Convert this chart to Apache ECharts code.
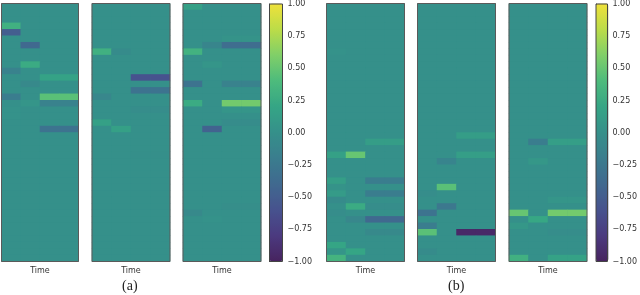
<!DOCTYPE html>
<html><head><meta charset="utf-8">
<style>html,body{margin:0;padding:0;background:#fff}#c{width:640px;height:295px}</style>
<script src="https://cdn.jsdelivr.net/npm/echarts@6/dist/echarts.min.js"></script>
</head><body><div id="c"></div>
<script>
const timeSteps = ['t1','t2','t3','t4'];
const rowCount = 40;
const colorTicks = [-1,-0.75,-0.5,-0.25,0,0.25,0.5,0.75,1];
// each entry: [first time index, last time index, row, value]; other cells are 0
const panelA1 = [[0,0,3,.3],[0,0,4,-.5],[0,0,10,-.15],[0,0,14,-.2],[0,0,16,.02],[0,0,17,.02],
  [1,1,6,-.4],[1,1,9,.25],[1,1,12,-.07],[1,1,15,.05],
  [2,3,11,.17],[2,3,14,.45],[2,3,15,-.15],[2,3,19,-.3]];
const panelA2 = [[0,0,7,.3],[0,0,14,-.1],[0,0,18,.15],[1,1,7,-.05],[1,1,19,.15],
  [2,3,11,-.6],[2,3,13,-.3],[2,3,16,-.03],[2,3,23,-.01]];
const panelA3 = [[0,0,0,.15],[0,0,7,.32],[0,0,12,-.3],[0,0,15,.25],[0,0,32,-.07],
  [1,1,6,-.12],[1,1,9,.05],[1,1,19,-.45],[1,1,33,.02],
  [2,3,5,.03],[2,3,6,-.35],[2,3,12,-.15],[2,3,15,.55],[2,3,16,.05],[2,3,18,-.04],[2,3,31,-.02]];
const panelB1 = [[0,0,7,.02],[0,0,23,.15],[0,0,27,.13],[0,0,28,.03],[0,0,29,.1],[0,0,30,-.05],[0,0,32,-.03],[0,0,37,.2],[0,0,38,.05],[0,0,39,.33],
  [1,1,23,.5],[1,1,31,.25],[1,1,33,-.1],[1,1,38,.2],
  [2,3,21,.12],[2,3,27,-.2],[2,3,29,-.2],[2,3,31,-.03],[2,3,33,-.4],[2,3,35,-.07]];
const panelB2 = [[0,0,29,-.03],[0,0,32,-.3],[0,0,34,-.2],[0,0,35,.45],[0,0,38,-.05],
  [1,1,24,-.13],[1,1,28,.45],[1,1,31,-.25],
  [2,3,20,.12],[2,3,23,.13],[2,3,35,-.95]];
const panelB3 = [[0,0,32,.5],[0,0,34,.07],[0,0,39,.3],[1,1,21,-.2],[1,1,24,.07],[1,1,33,.22],
  [2,3,21,.13],[2,3,30,.05],[2,3,32,.55],[2,3,35,-.03],[2,3,39,.17]];
const panels = [panelA1,panelA2,panelA3,panelB1,panelB2,panelB3];
const zeroColor = '#35908a';
const colorRamp = ['#47235f','#4b3a7f','#47528e','#40698f','#3a7d8e',zeroColor,'#35a585','#4dbb7c','#80cf68','#bcdc48','#efe13a'];

const panelBoxes = [[1.5,77],[92,78],[183,78],[326.5,78],[417.5,78],[509,78]];
const barBoxes = [[269.5,13],[596,12.5]];
const topY = 3.5, plotH = 258;
const grids=[],xAxes=[],yAxes=[],series=[];
const rows = Array.from({length:rowCount},(_,i)=>String(i));
panels.forEach((cells,p)=>{
  const m = rows.map(()=>timeSteps.map(()=>0));
  cells.forEach(([a,b,r,v])=>{for(let t=a;t<=b;t++)m[r][t]=v;});
  const data=[];
  m.forEach((row,r)=>row.forEach((v,t)=>data.push([t,r,v])));
  grids.push({left:panelBoxes[p][0],width:panelBoxes[p][1],top:topY,height:plotH,show:true,borderColor:'#5a5a5a',borderWidth:1,backgroundColor:'transparent',z:5});
  xAxes.push({type:'category',gridIndex:p,data:timeSteps,axisTick:{show:false},axisLabel:{show:false},axisLine:{show:false},splitLine:{show:false},
    name:'Time',nameLocation:'middle',nameGap:5,nameTextStyle:{fontFamily:'DejaVu Sans',fontSize:8,color:'#333'}});
  yAxes.push({type:'category',gridIndex:p,data:rows,inverse:true,axisTick:{show:false},axisLabel:{show:false},axisLine:{show:false},splitLine:{show:false}});
  series.push({type:'heatmap',xAxisIndex:p,yAxisIndex:p,data,silent:true,progressive:0,animation:false,itemStyle:{borderWidth:0}});
});
barBoxes.forEach((b,i)=>{
  const g=grids.length;
  grids.push({left:b[0],width:b[1],top:topY,height:plotH,show:true,borderColor:'#444',borderWidth:1,backgroundColor:'transparent',z:6});
  xAxes.push({type:'value',gridIndex:g,show:false,min:0,max:1});
  yAxes.push({type:'value',gridIndex:g,position:'right',min:-1,max:1,interval:0.25,splitLine:{show:false},
    axisLine:{show:true,lineStyle:{color:'#444',width:1}},
    axisTick:{show:true,length:3,lineStyle:{color:'#333',width:1}},
    axisLabel:{margin:5,fontFamily:'DejaVu Sans',fontSize:8,color:'#333',
      customValues:colorTicks,
      formatter:v=>(v<0?'\u2212':'')+Math.abs(v).toFixed(2)}});
  series.push({type:'line',xAxisIndex:g,yAxisIndex:g,data:[],silent:true});
});
const vm=(box,idx)=>({type:'continuous',min:-1,max:1,left:box[0],top:topY,itemWidth:box[1],itemHeight:plotH,padding:0,
  calculable:false,realtime:false,text:null,showLabel:false,seriesIndex:idx,inRange:{color:colorRamp},hoverLink:false});
const chart=echarts.init(document.getElementById('c'),null,{renderer:'canvas'});
chart.setOption({backgroundColor:'#fff',animation:false,
  graphic:panelBoxes.map(b=>({type:'rect',z:-1,silent:true,shape:{x:b[0],y:topY,width:b[1],height:plotH},style:{fill:zeroColor}})),
  title:[
    {text:'(a)',left:122,top:279,padding:0,textStyle:{fontFamily:'Liberation Serif',fontSize:14,fontWeight:'normal',color:'#222'}},
    {text:'(b)',left:448,top:279,padding:0,textStyle:{fontFamily:'Liberation Serif',fontSize:14,fontWeight:'normal',color:'#222'}}
  ],
  grid:grids,xAxis:xAxes,yAxis:yAxes,series,
  visualMap:[vm(barBoxes[0],[0,1,2]),vm(barBoxes[1],[3,4,5])]
});
</script></body></html>
